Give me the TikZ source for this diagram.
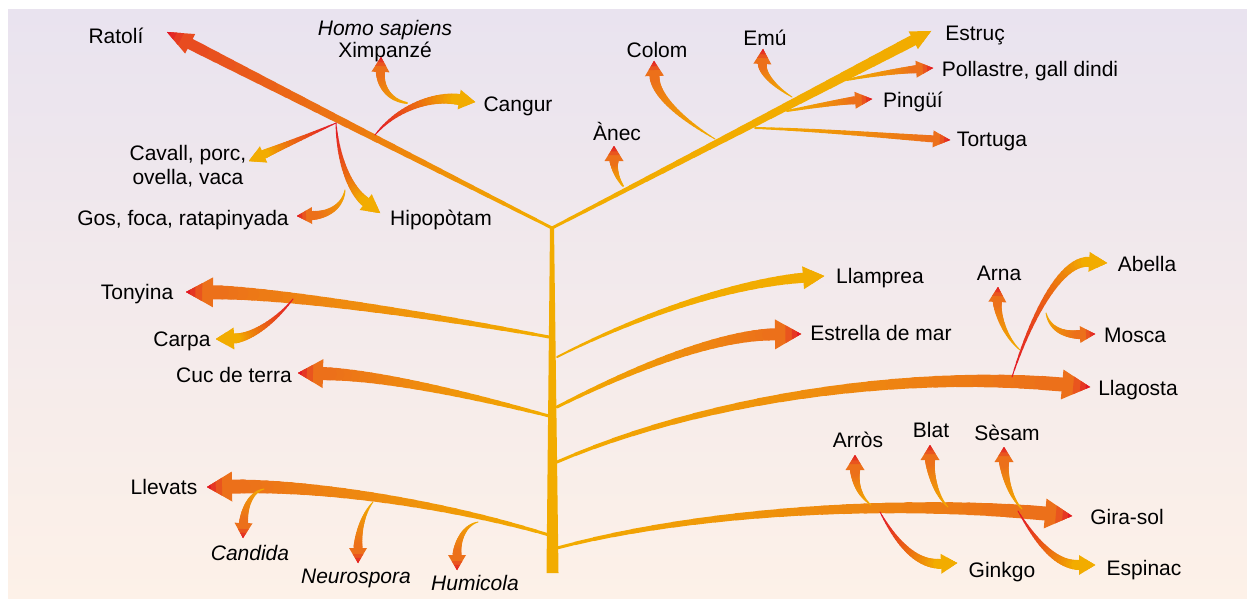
\documentclass[tikz,border=0pt]{standalone}
\usepackage{fontspec}
\setmainfont{Liberation Sans}
\usetikzlibrary{calc}
\definecolor{ylw}{RGB}{242,172,0}
\definecolor{org}{RGB}{236,112,26}
\definecolor{rd}{RGB}{226,22,40}
\definecolor{bgtop}{RGB}{233,227,239}
\definecolor{bgbot}{RGB}{253,241,232}
\pgfkeys{/ta/.is family, /ta/.cd,
  w0/.store in=\taWa, w1/.store in=\taWb,
  c0/.store in=\taCa, c1/.store in=\taCb, tip/.store in=\taTip,
  hl/.store in=\taHL, hw/.store in=\taHW}
% \tarrow[options]{start}{control1}{control2}{tip}
\newcommand{\tarrow}[5][]{%
  \pgfkeys{/ta/.cd, w0=1, w1=8, c0=ylw, c1=org, tip=rd, hl=16, hw=16, #1}%
  \pgfmathsetmacro\taHalf{0.5*\taHW}%
  \coordinate (tB) at ($#5!\taHL pt!#4$);
  \path #2 .. controls #3 and #4 .. (tB) foreach \k in {0,...,24}{coordinate[pos=\k/24] (tp\k)};
  \foreach \k in {0,...,23}{%
    \pgfmathtruncatemacro\kk{\k+1}%
    \pgfmathsetmacro\tw{\taWa+(\taWb-\taWa)*\k/23}%
    \pgfmathtruncatemacro\tc{100*\k/23}%
    \draw[line width=\tw pt, color=\taCb!\tc!\taCa, line cap=round] (tp\k) -- (tp\kk);
  }%
  \coordinate (hB1) at ($(tB)!\taHalf pt!90:#5$);
  \coordinate (hB2) at ($(tB)!\taHalf pt!-90:#5$);
  \fill[\taCb] #5 -- (hB1) -- (hB2) -- cycle;
  \fill[\taTip!30!\taCb] #5 -- ($#5!0.6!(hB1)$) -- ($#5!0.6!(hB2)$) -- cycle;
  \fill[\taTip!65!\taCb] #5 -- ($#5!0.35!(hB1)$) -- ($#5!0.35!(hB2)$) -- cycle;
  \fill[\taTip] #5 -- ($#5!0.15!(hB1)$) -- ($#5!0.15!(hB2)$) -- cycle;
}
\tikzset{
  lbl/.style={font=\fontsize{21}{24}\selectfont, inner sep=0pt, anchor=mid, text=black, yshift=-5pt},
  lbli/.style={lbl, font=\fontsize{21}{24}\selectfont\itshape},
  lblc/.style={font=\fontsize{21}{24}\selectfont, inner sep=0pt, anchor=center, align=center, text=black},
}
\begin{document}
\begin{tikzpicture}[x=1pt,y=-1pt]
\useasboundingbox (0,0) rectangle (1247,599);
\fill[white] (0,0) rectangle (1247,599);
\shade[top color=bgtop, bottom color=bgbot] (8,10) rectangle (1247,599);

% ---------- labels ----------
\node[lbl] (ratoli) at (116,36) {Ratolí};
\node[lbli] (homo) at (385,28) {Homo sapiens};
\node[lbl] (ximp) at (385,50) {Ximpanzé};
\node[lbl] (cangur) at (518,104) {Cangur};
\node[lblc] (cavall) at (188,166) {Cavall, porc,\\ovella, vaca};
\node[lbl] (gos) at (183,218) {Gos, foca, ratapinyada};
\node[lbl] (hipo) at (441,218) {Hipopòtam};
\node[lbl] (colom) at (657,50) {Colom};
\node[lbl] (emu) at (765,38) {Emú};
\node[lbl] (estruc) at (975,33) {Estruç};
\node[lbl] (pollastre) at (1030,69) {Pollastre, gall dindi};
\node[lbl] (pingui) at (913,100) {Pingüí};
\node[lbl] (tortuga) at (992,139) {Tortuga};
\node[lbl] (anec) at (617,133) {Ànec};
\node[lbl] (tonyina) at (137,292) {Tonyina};
\node[lbl] (carpa) at (182,339) {Carpa};
\node[lbl] (cuc) at (234,375) {Cuc de terra};
\node[lbl] (llevats) at (164,487) {Llevats};
\node[lbli] (candida) at (250,553) {Candida};
\node[lbli] (neuro) at (356,576) {Neurospora};
\node[lbli] (humi) at (475,583) {Humicola};
\node[lbl] (llamprea) at (880,276) {Llamprea};
\node[lbl] (estrella) at (881,333) {Estrella de mar};
\node[lbl] (arna) at (999,273) {Arna};
\node[lbl] (abella) at (1147,264) {Abella};
\node[lbl] (mosca) at (1135,335) {Mosca};
\node[lbl] (llagosta) at (1138,388) {Llagosta};
\node[lbl] (arros) at (858,440) {Arròs};
\node[lbl] (blat) at (931,430) {Blat};
\node[lbl] (sesam) at (1007,433) {Sèsam};
\node[lbl] (girasol) at (1127,517) {Gira-sol};
\node[lbl] (ginkgo) at (1002,570) {Ginkgo};
\node[lbl] (espinac) at (1144,568) {Espinac};

% ---------- branch points and tips ----------
\coordinate (J) at (552,228);
\coordinate (mam) at (336,123);
\coordinate (bCang) at (375,135);
\coordinate (bHomo) at (407,103);
\coordinate (bGos) at (345,190);
\coordinate (bAnec) at (623,186);
\coordinate (bColom) at (715,139);
\coordinate (bTort) at (755,128);
\coordinate (bPing) at (787,111);
\coordinate (bEmu) at (792,97);
\coordinate (bPoll) at (847,80);
\coordinate (bTony) at (549,337);
\coordinate (bCarpa) at (293,299);
\coordinate (bCuc) at (549,416);
\coordinate (bLlev) at (549,535);
\coordinate (bCand) at (264,489);
\coordinate (bNeur) at (373,502);
\coordinate (bHumi) at (478,522);
\coordinate (bLlam) at (557,357);
\coordinate (bEstr) at (557,407);
\coordinate (bLlag) at (557,462);
\coordinate (bAbel) at (1012,377);
\coordinate (bArna) at (1020,350);
\coordinate (bMosc) at (1046,313);
\coordinate (bGira) at (557,548);
\coordinate (bArros) at (871,505);
\coordinate (bBlat) at (948,507);
\coordinate (bSesam) at (1022,509);
\coordinate (bGink) at (880,512);
\coordinate (bEspi) at (1018,511);

\coordinate (tRat) at (167,32);
\coordinate (tEstruc) at (931,31);
\coordinate (tTort) at (950,140);
\coordinate (tPing) at (872,99);
\coordinate (tPoll) at (933,68);
\coordinate (tEmu) at (763,49);
\coordinate (tColom) at (654,61);
\coordinate (tAnec) at (614,146);
\coordinate (tCang) at (475,102);
\coordinate (tHomo) at (381,57);
\coordinate (tCav) at (249,161);
\coordinate (tHipo) at (380,213);
\coordinate (tGos) at (297,216);
\coordinate (tTony) at (186,292);
\coordinate (tCarpa) at (216,339);
\coordinate (tCuc) at (298,373);
\coordinate (tLlev) at (207,487);
\coordinate (tCand) at (243,538);
\coordinate (tNeur) at (358,563);
\coordinate (tHumi) at (457,570);
\coordinate (tLlam) at (824,276);
\coordinate (tEstr) at (801,334);
\coordinate (tLlag) at (1090,387);
\coordinate (tAbel) at (1107,263);
\coordinate (tArna) at (998,287);
\coordinate (tMosc) at (1095,334);
\coordinate (tGira) at (1072,516);
\coordinate (tArros) at (855,455);
\coordinate (tBlat) at (930,445);
\coordinate (tSesam) at (1004,447);
\coordinate (tGink) at (957,563);
\coordinate (tEspi) at (1095,565);

% ---------- trunk ----------
\fill[ylw] (550,226) -- (554,226) -- (558.5,573) -- (546.5,573) -- cycle;

% ---------- main branches ----------
\tarrow[w0=3, w1=11, hl=26, hw=22, c1=org!60!rd]{(J)}{(424,163)}{(296,98)}{(tRat)}
\tarrow[w0=3, w1=11, hl=20, hw=20, c1=ylw, tip=ylw]{(J)}{(678,163)}{(805,97)}{(tEstruc)}
\tarrow[w0=3, w1=14, hl=27, hw=30]{(bTony)}{(430,315)}{(280,293)}{(tTony)}
\tarrow[w0=3, w1=13, hl=25, hw=29]{(bCuc)}{(470,395)}{(380,375)}{(tCuc)}
\tarrow[w0=3, w1=14, hl=25, hw=30]{(bLlev)}{(450,505)}{(320,485)}{(tLlev)}
\tarrow[w0=2, w1=10, hl=21, hw=23, c1=ylw, tip=ylw]{(bLlam)}{(650,310)}{(740,283)}{(tLlam)}
\tarrow[w0=3, w1=12, hl=26, hw=30]{(bEstr)}{(640,365)}{(720,335)}{(tEstr)}
\tarrow[w0=3, w1=14, hl=28, hw=30]{(bLlag)}{(700,400)}{(900,370)}{(tLlag)}
\tarrow[w0=3, w1=14, hl=27, hw=30]{(bGira)}{(700,510)}{(900,500)}{(tGira)}

% ---------- birds / reptiles ----------
\tarrow[w0=2, w1=7, hl=17, hw=17]{(bTort)}{(820,130)}{(890,136)}{(tTort)}
\tarrow[w0=2, w1=8, hl=17, hw=17]{(bPing)}{(815,106)}{(845,101)}{(tPing)}
\tarrow[w0=2, w1=8, hl=17, hw=17]{(bPoll)}{(875,74)}{(905,70)}{(tPoll)}
\tarrow[w0=1, w1=9, hl=15, hw=18]{(bEmu)}{(772,85)}{(762,72)}{(tEmu)}
\tarrow[w0=1, w1=10, hl=15, hw=19]{(bColom)}{(680,118)}{(655,95)}{(tColom)}
\tarrow[w0=2, w1=9, hl=15, hw=19]{(bAnec)}{(615,175)}{(614,165)}{(tAnec)}

% ---------- mammals ----------
\tarrow[w0=1, w1=11, hl=16, hw=20, c0=rd, c1=ylw, tip=ylw]{(bCang)}{(395,110)}{(430,95)}{(tCang)}
\tarrow[w0=2, w1=9, hl=15, hw=18]{(bHomo)}{(388,100)}{(380,85)}{(tHomo)}
\tarrow[w0=1, w1=9, hl=16, hw=18, c0=rd, c1=ylw, tip=ylw]{(mam)}{(307,136)}{(278,148)}{(tCav)}
\tarrow[w0=1, w1=10, hl=18, hw=20, c0=rd, c1=ylw, tip=ylw]{(mam)}{(338,160)}{(350,190)}{(tHipo)}
\tarrow[w0=1, w1=9, hl=15, hw=17]{(bGos)}{(343,205)}{(330,215)}{(tGos)}

% ---------- fish / fungi ----------
\tarrow[w0=1, w1=10, hl=18, hw=22, c0=rd, c1=ylw, tip=ylw]{(bCarpa)}{(275,322)}{(250,338)}{(tCarpa)}
\tarrow[w0=1, w1=9, hl=15, hw=18]{(bCand)}{(250,492)}{(244,510)}{(tCand)}
\tarrow[w0=1, w1=9, hl=15, hw=18]{(bNeur)}{(362,515)}{(358,535)}{(tNeur)}
\tarrow[w0=1, w1=9, hl=15, hw=18]{(bHumi)}{(462,526)}{(457,545)}{(tHumi)}

% ---------- insects ----------
\tarrow[w0=1, w1=10, hl=18, hw=20, c0=rd, c1=ylw, tip=ylw]{(bAbel)}{(1030,320)}{(1060,260)}{(tAbel)}
\tarrow[w0=1, w1=9, hl=15, hw=18]{(bArna)}{(1003,335)}{(997,310)}{(tArna)}
\tarrow[w0=1, w1=9, hl=15, hw=17]{(bMosc)}{(1050,330)}{(1065,335)}{(tMosc)}

% ---------- plants ----------
\tarrow[w0=1, w1=10, hl=15, hw=19]{(bArros)}{(858,495)}{(855,480)}{(tArros)}
\tarrow[w0=1, w1=10, hl=15, hw=19]{(bBlat)}{(935,495)}{(930,470)}{(tBlat)}
\tarrow[w0=1, w1=10, hl=15, hw=19]{(bSesam)}{(1008,495)}{(1004,470)}{(tSesam)}
\tarrow[w0=1, w1=10, hl=16, hw=20, c0=rd, c1=ylw, tip=ylw]{(bGink)}{(895,540)}{(915,565)}{(tGink)}
\tarrow[w0=1, w1=10, hl=16, hw=20, c0=rd, c1=ylw, tip=ylw]{(bEspi)}{(1035,540)}{(1055,565)}{(tEspi)}
\end{tikzpicture}
\end{document}
